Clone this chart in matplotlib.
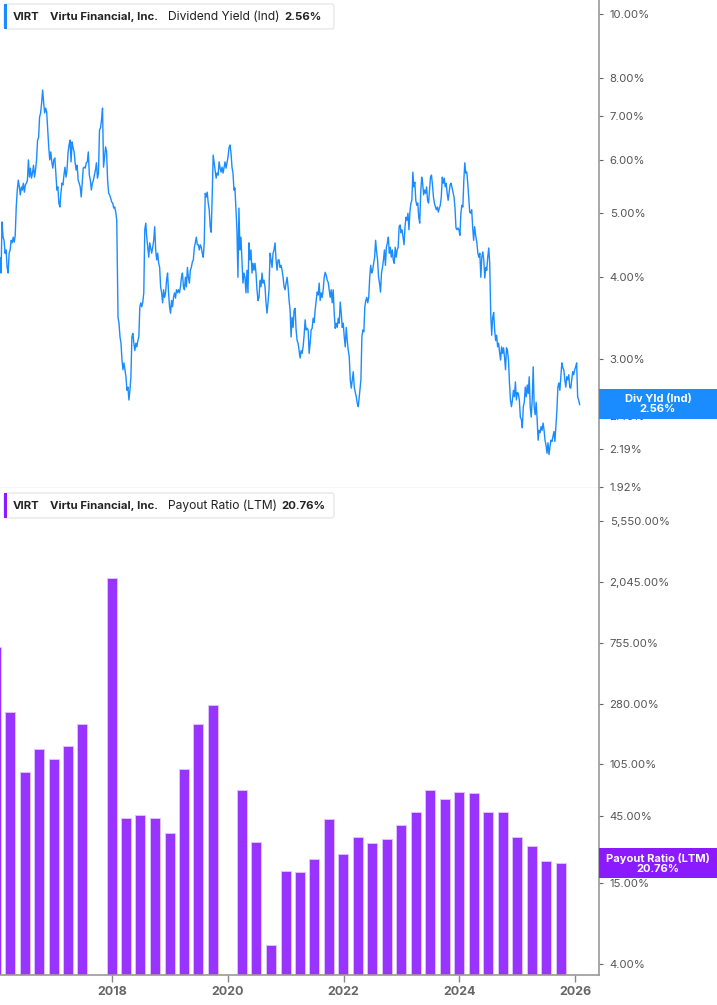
import numpy as np
import pandas as pd
import matplotlib
matplotlib.use("Agg")
import matplotlib.pyplot as plt
import matplotlib.dates as mdates
from matplotlib.patches import Rectangle, FancyBboxPatch
from matplotlib.ticker import FixedLocator, FuncFormatter, NullLocator

plt.rcParams['font.family'] = ['Inter', 'DejaVu Sans']

BLUE = '#1a8cff'
PURPLE = '#9933ff'
PURPLE_TAG = '#8c1aff'
GREY_TXT = '#555555'

# dividend yield (Ind), % in five stretches (start, end date of each)
yld_spans = [('2016-01-27', '2018-02-01'), ('2018-02-09', '2020-02-10'),
             ('2020-02-16', '2022-04-10'), ('2022-04-14', '2024-04-06'),
             ('2024-04-14', '2026-01-28')]

yld_2016 = [4.27, 4.05, 4.84, 4.59, 4.54, 4.34, 4.39, 4.13, 4.05, 4.34,
            4.39, 4.54, 4.50, 4.59, 4.51, 4.62, 5.10, 5.41, 5.60, 5.47,
            5.32, 5.47, 5.41, 5.54, 5.37, 5.51, 5.54, 5.60, 6.01, 5.66,
            5.84, 5.64, 5.74, 5.90, 5.66, 5.80, 6.01, 6.44, 6.49, 6.98,
            7.08, 7.33, 7.67, 7.33, 7.08, 7.20, 7.10, 6.67, 6.29, 6.01,
            6.18, 5.97, 5.84, 6.01, 6.05, 5.74, 5.41, 5.47, 5.17, 5.10,
            5.35, 5.54, 5.51, 5.70, 5.86, 5.66, 5.80, 6.16, 6.33, 6.44,
            5.97, 6.40, 6.27, 6.18, 5.95, 5.80, 5.90, 5.60, 5.54, 5.47,
            5.28, 5.54, 5.84, 5.86, 5.84, 5.95, 5.97, 6.18, 5.70, 5.60,
            5.41, 5.54, 5.60, 5.70, 5.80, 5.95, 5.64, 5.74, 6.67, 6.72,
            6.91, 7.20, 5.86, 6.07, 6.29, 6.18, 5.60, 5.35, 5.32, 5.26,
            5.19, 5.17, 5.08, 5.10, 5.01, 4.87]

yld_2018 = [3.47, 3.40, 3.24, 3.17, 2.99, 2.89, 2.96, 2.89, 2.82, 2.69,
            2.72, 2.60, 2.69, 2.82, 3.24, 3.28, 3.17, 3.09, 3.17, 3.13,
            3.20, 3.24, 3.60, 3.65, 3.60, 3.66, 3.78, 4.71, 4.82, 4.59,
            4.43, 4.28, 4.50, 4.42, 4.34, 4.43, 4.54, 4.76, 4.39, 4.24,
            4.34, 4.19, 4.13, 3.86, 3.78, 3.65, 3.82, 3.72, 3.78, 3.95,
            4.05, 3.78, 3.60, 3.52, 3.68, 3.60, 3.72, 3.78, 3.71, 3.82,
            3.78, 3.82, 3.78, 3.86, 3.99, 4.05, 3.86, 3.82, 3.99, 3.86,
            4.13, 3.99, 3.91, 4.09, 4.13, 4.21, 4.24, 4.43, 4.50, 4.59,
            4.47, 4.47, 4.39, 4.47, 4.43, 4.34, 4.28, 4.50, 5.35, 5.28,
            5.37, 5.17, 5.05, 4.76, 4.67, 5.28, 6.11, 5.95, 5.80, 5.64,
            5.74, 5.70, 5.97, 5.84, 5.76, 5.86, 5.74, 5.86, 5.97, 5.84,
            5.95, 6.07, 6.27, 6.33, 6.16, 5.86, 5.74, 5.41]

yld_2020 = [5.45, 5.08, 4.71, 3.99, 5.08, 4.39, 4.59, 4.24, 3.91, 4.05,
            3.99, 3.78, 4.09, 3.78, 4.50, 4.24, 4.39, 4.05, 4.19, 4.09,
            4.19, 4.05, 3.82, 3.68, 3.72, 3.95, 3.86, 4.05, 3.91, 3.95,
            3.86, 3.65, 3.52, 3.65, 3.82, 4.34, 4.24, 4.13, 4.34, 4.39,
            4.50, 4.24, 4.09, 4.24, 4.24, 4.13, 4.16, 4.09, 3.99, 3.86,
            3.82, 3.91, 3.99, 3.86, 3.68, 3.56, 3.24, 3.47, 3.35, 3.56,
            3.58, 3.32, 3.20, 3.17, 3.09, 3.01, 3.09, 3.06, 3.13, 3.26,
            3.44, 3.32, 3.34, 3.32, 3.06, 3.17, 3.32, 3.34, 3.46, 3.41,
            3.56, 3.68, 3.79, 3.75, 3.91, 3.68, 3.78, 3.72, 3.82, 3.99,
            4.06, 4.02, 3.95, 3.92, 3.82, 3.72, 3.82, 3.65, 3.82, 3.52,
            3.34, 3.40, 3.35, 3.46, 3.40, 3.66, 3.52, 3.35, 3.40, 3.24,
            3.13, 3.35, 3.20, 3.09, 3.02, 2.79, 2.71, 2.79, 2.87, 2.72,
            2.67, 2.63, 2.57, 2.54, 2.63]

yld_2022 = [2.69, 2.79, 3.24, 3.32, 3.30, 3.60, 3.68, 3.72, 3.65, 3.72,
            3.99, 4.16, 4.05, 4.09, 4.19, 4.28, 4.54, 4.36, 4.24, 3.99,
            3.91, 3.79, 4.05, 4.13, 4.24, 4.39, 4.16, 4.43, 4.50, 4.59,
            4.34, 4.43, 4.28, 4.39, 4.24, 4.19, 4.43, 4.28, 4.39, 4.43,
            4.76, 4.79, 4.66, 4.71, 4.59, 4.47, 4.76, 4.92, 4.87, 4.99,
            4.71, 5.01, 5.17, 5.22, 5.76, 5.47, 5.56, 5.22, 5.13, 5.17,
            4.92, 4.82, 5.35, 5.66, 5.54, 5.32, 5.41, 5.35, 5.47, 5.22,
            5.17, 5.41, 5.66, 5.70, 5.51, 5.28, 5.17, 5.10, 5.05, 5.10,
            5.01, 5.08, 5.13, 5.28, 5.66, 5.54, 5.64, 5.47, 5.54, 5.35,
            5.22, 5.37, 5.51, 5.54, 5.45, 5.37, 5.28, 5.08, 4.74, 4.71,
            4.74, 4.71, 4.62, 4.99, 5.13, 5.10, 5.60, 5.95, 5.74, 5.76,
            5.54, 5.28, 5.01, 4.99, 5.05, 4.76, 4.54, 4.76]

yld_2024 = [4.59, 4.50, 4.34, 4.28, 4.34, 3.99, 4.28, 4.36, 4.24, 3.98,
            4.13, 4.09, 4.28, 4.42, 4.19, 3.52, 3.26, 3.47, 3.53, 3.32,
            3.20, 3.26, 3.13, 3.17, 3.07, 2.99, 3.13, 3.06, 3.12, 3.02,
            2.89, 3.12, 3.09, 2.99, 2.76, 2.60, 2.54, 2.60, 2.69, 2.63,
            2.77, 2.60, 2.67, 2.66, 2.60, 2.45, 2.43, 2.36, 2.54, 2.58,
            2.72, 2.63, 2.74, 2.66, 2.82, 2.54, 2.45, 2.60, 2.92, 2.54,
            2.47, 2.58, 2.43, 2.26, 2.34, 2.32, 2.37, 2.34, 2.40, 2.34,
            2.26, 2.22, 2.16, 2.24, 2.15, 2.21, 2.26, 2.25, 2.29, 2.33,
            2.25, 2.37, 2.51, 2.72, 2.76, 2.69, 2.82, 2.96, 2.91, 2.89,
            2.79, 2.72, 2.82, 2.79, 2.84, 2.72, 2.71, 2.79, 2.87, 2.84,
            2.89, 2.92, 2.96, 2.63, 2.60, 2.56]

# payout ratio (LTM), %, quarterly 2015Q4 .. 2025Q3 (nan = no bar)
payout_quarters = pd.period_range('2015Q4', '2025Q3', freq='Q')
payout = [706, 245.6, 91.8, 133.6, 114, 141, 200, np.nan, 2188,
          43.6, 46.0, 43.3, 34.3, 96.4, 202, 274, np.nan,
          68.1, 29.2, 5.46, 18.3, 17.9, 22.4, 42.7, 24.1,
          31.8, 29.0, 30.7, 38.6, 47.8, 69.2, 58.8, 66.2,
          65.5, 47.8, 47.7, 32.1, 27.5, 21.6, 20.76]

yld_ticks = [1.92, 2.19, 2.46, 3, 4, 5, 6, 7, 8, 10]
payout_ticks = [4, 15, 45, 105, 280, 755, 2045, 5550]
year_ticks = [2018, 2020, 2022, 2024, 2026]

W, H = 717, 1005
fig = plt.figure(figsize=(W / 100, H / 100), dpi=100)
ax1 = fig.add_axes([0, 517 / H, 598.5 / W, 488 / H])
ax2 = fig.add_axes([0, 30 / H, 598.5 / W, 487 / H])

# ---- dividend yield line
xs, ys = [], []
for (start, end), vals in zip(yld_spans, [yld_2016, yld_2018, yld_2020, yld_2022, yld_2024]):
    d = pd.date_range(start, end, periods=len(vals))
    xs.append(mdates.date2num(d.to_pydatetime()))
    ys.append(vals)
ax1.plot(np.concatenate(xs), np.concatenate(ys), color=BLUE, lw=1.0)

# ---- payout bars
xq = mdates.date2num(payout_quarters.end_time.normalize().to_pydatetime())
pv = np.array(payout, dtype=float)
ax2.bar(xq, pv - 1, bottom=1, width=63, color=PURPLE, edgecolor='#dcc2ff', linewidth=0.7)

xlo = mdates.date2num(pd.Timestamp('2016-01-27').to_pydatetime())
xhi = mdates.date2num(pd.Timestamp('2026-05-27').to_pydatetime())
for ax in (ax1, ax2):
    ax.set_xlim(xlo, xhi)
    ax.set_yscale('log')
    ax.yaxis.tick_right()
    ax.yaxis.set_minor_locator(NullLocator())
    ax.tick_params(axis='y', which='both', direction='out', length=3, width=0.8,
                   color='#666666', labelsize=8.2, labelcolor=GREY_TXT, pad=5)
    ax.spines['top'].set_visible(False)
    ax.spines['left'].set_visible(False)
    ax.spines['right'].set_color('#9a9a9a')
    ax.spines['right'].set_linewidth(1.2)
    ax.set_facecolor('white')

ax1.set_ylim(1.913, 10.50)
ax1.yaxis.set_major_locator(FixedLocator(yld_ticks))
ax1.yaxis.set_major_formatter(FuncFormatter(lambda v, p: f'{v:.2f}%'))
ax1.spines['bottom'].set_color('#d4d4d4')
ax1.spines['bottom'].set_linewidth(1.0)
ax1.tick_params(axis='x', length=0, labelbottom=False)

ax2.set_ylim(3.36, 9450)
ax2.yaxis.set_major_locator(FixedLocator(payout_ticks))
ax2.yaxis.set_major_formatter(FuncFormatter(lambda v, p: f'{v:,.2f}%'))
ax2.spines['bottom'].set_color('#9a9a9a')
ax2.spines['bottom'].set_linewidth(1.2)
ax2.set_xticks([mdates.date2num(pd.Timestamp(f'{y}-01-01').to_pydatetime()) for y in year_ticks])
ax2.set_xticklabels([str(y) for y in year_ticks])
ax2.tick_params(axis='x', direction='out', length=5, width=1, color='#888888',
                labelsize=9, labelcolor='#666666', pad=3)
for t in ax2.get_xticklabels():
    t.set_fontweight('bold')


def fx(px):
    return px / W


def fy(py):
    return 1 - py / H


# ---- legend boxes at top-left of each panel
for top, color, metric, value, vx in [(4, BLUE, 'Dividend Yield (Ind)', '2.56%', 284),
                                      (493, PURPLE_TAG, 'Payout Ratio (LTM)', '20.76%', 281)]:
    box = FancyBboxPatch((fx(4), fy(top + 25)), fx(330), 25 / H,
                         boxstyle='round,pad=0,rounding_size=0.003',
                         transform=fig.transFigure, fc='white', ec='#e2e2e2', lw=0.8, zorder=4)
    fig.add_artist(box)
    fig.add_artist(Rectangle((fx(4), fy(top + 25)), fx(3), 25 / H,
                             transform=fig.transFigure, fc=color, ec='none', zorder=5))
    yc = fy(top + 12.5)
    fig.text(fx(13), yc, 'VIRT', fontsize=8.2, fontweight='bold', color='#222222', va='center', zorder=6)
    fig.text(fx(50), yc, 'Virtu Financial, Inc.', fontsize=8.2, fontweight='bold', color='#222222',
             va='center', zorder=6)
    fig.text(fx(168), yc, metric, fontsize=8.7, color='#222222', va='center', zorder=6)
    fig.text(fx(vx), yc, value, fontsize=8.2, fontweight='bold', color='#222222', va='center', zorder=6)

# ---- last-value tags on the right axis
for y0, y1, color, label in [(389, 419, BLUE, 'Div Yld (Ind)\n2.56%'),
                             (848, 878, PURPLE_TAG, 'Payout Ratio (LTM)\n20.76%')]:
    fig.add_artist(Rectangle((fx(599), fy(y1)), fx(118), (y1 - y0) / H,
                             transform=fig.transFigure, fc=color, ec='none', zorder=5))
    fig.text(fx(658), fy((y0 + y1) / 2), label, ha='center', va='center', fontsize=8,
             fontweight='bold', color='white', linespacing=1.0, zorder=6)

fig.savefig('out.png', dpi=100, facecolor='white')
